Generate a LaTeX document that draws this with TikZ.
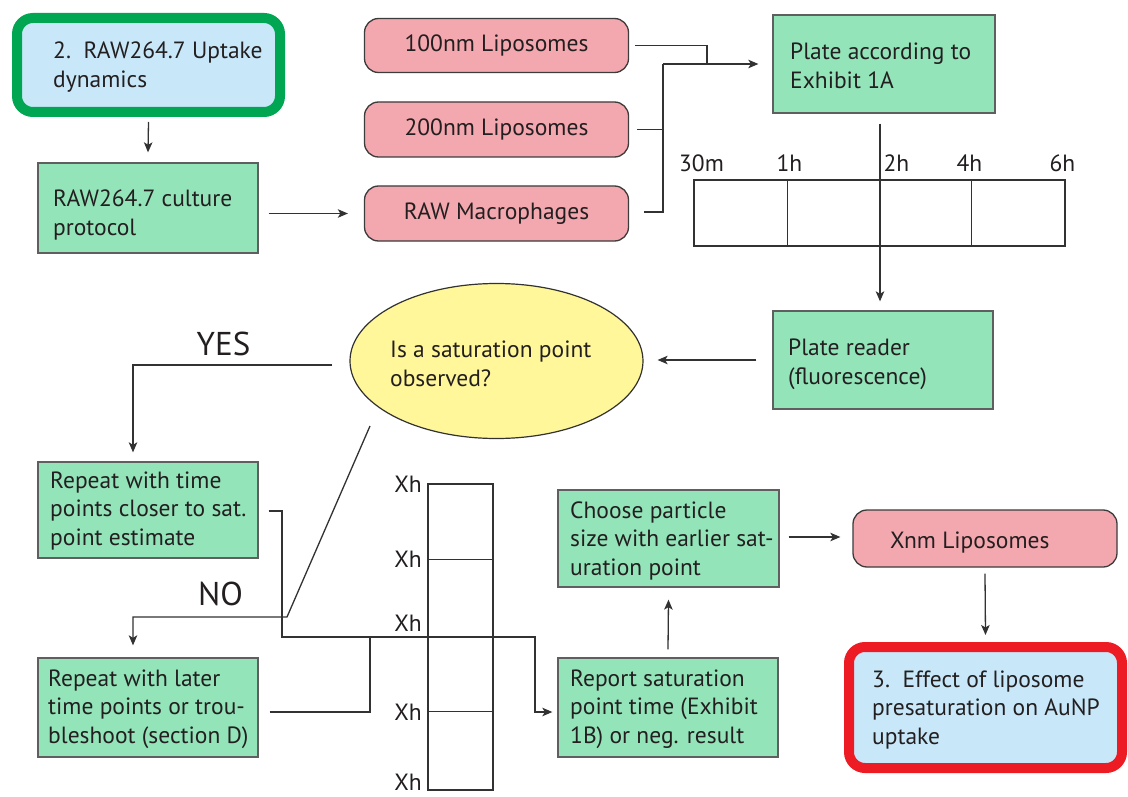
\documentclass[tikz,border=0pt]{standalone}
\usepackage{fontspec}
\setmainfont{PT Sans}
\usetikzlibrary{shapes.geometric,arrows.meta,calc}
\definecolor{boxgreen}{RGB}{148,228,186}
\definecolor{boxpink}{RGB}{243,167,174}
\definecolor{lightblue}{RGB}{200,232,250}
\definecolor{startgreen}{RGB}{0,166,81}
\definecolor{endred}{RGB}{237,28,36}
\definecolor{qyellow}{RGB}{255,247,153}
\definecolor{boxborder}{RGB}{95,95,95}
\definecolor{pinkborder}{RGB}{60,60,60}
\definecolor{linecol}{RGB}{50,50,50}
\definecolor{textcol}{RGB}{35,31,32}
\newcommand\regfont{\fontsize{23.5}{28.5}\selectfont}
\newcommand\bigfont{\fontsize{33}{36}\selectfont}
\begin{document}
\begin{tikzpicture}[x=1pt,y=-1pt,
  gbox/.style={draw=boxborder, fill=boxgreen, line width=1.3pt, inner sep=0pt},
  pbox/.style={draw=pinkborder, fill=boxpink, line width=1.3pt, rounded corners=14pt, inner sep=0pt, font=\regfont, text=textcol, minimum width=264pt},
  bluebox/.style={fill=lightblue, line width=10pt, rounded corners=16pt, inner sep=0pt},
  txt/.style={font=\regfont, text=textcol, align=left, inner sep=0pt, anchor=base west},
  lbl/.style={font=\regfont, text=textcol, inner sep=0pt, anchor=base},
  xlbl/.style={font=\regfont, text=textcol, inner sep=0pt, anchor=base east},
  big/.style={font=\bigfont, text=textcol, inner sep=0pt, anchor=base},
  conn/.style={draw=linecol, line width=1.3pt},
  arr/.style={conn, -{Stealth[length=10pt,width=8.5pt,inset=2.5pt]}},
  grid/.style={draw=linecol, line width=1.3pt}
]
\useasboundingbox[fill=white] (0,0) rectangle (1128,797);

% start box
\node[bluebox, draw=startgreen, minimum width=263pt, minimum height=94pt] (start) at (148.5,65) {};
\node[txt] (startt) at (53,87.5) {2.\ \ RAW264.7 Uptake\\dynamics};

% culture
\node[gbox, minimum width=220pt, minimum height=90pt] (culture) at (148,208) {};
\node[txt] (culturet) at (53,235.5) {RAW264.7 culture\\protocol};

% pink boxes
\node[pbox, minimum height=54pt] (lip100) at (496.5,45.5) {100nm Liposomes};
\node[pbox, minimum height=55pt] (lip200) at (496.5,129.5) {200nm Liposomes};
\node[pbox, minimum height=55pt] (raw) at (496.5,213.5) {RAW Macrophages};

% plate
\node[gbox, minimum width=222pt, minimum height=98pt] (plate) at (884,64) {};
\node[txt] (platet) at (790,88.5) {Plate according to\\Exhibit 1A};

% time table
\node[grid, minimum width=371pt, minimum height=66pt, inner sep=0pt] (tab) at (879.5,213) {};
\draw[grid] ($(tab.north west)+(94,0)$) -- ($(tab.south west)+(94,0)$);
\draw[grid] ($(tab.north west)+(278,0)$) -- ($(tab.south west)+(278,0)$);
\node[lbl] (t30) at (701.5,172) {30m};
\node[lbl] (t1) at (789.5,172) {1h};
\node[lbl] (t2) at (896.5,172) {2h};
\node[lbl] (t4) at (969.5,172) {4h};
\node[lbl] (t6) at (1062.5,172) {6h};

% plate reader
\node[gbox, minimum width=220pt, minimum height=98pt] (reader) at (883,360) {};
\node[txt] (readert) at (788,384) {Plate reader\\(fluorescence)};

% question
\node[ellipse, draw=linecol, fill=qyellow, line width=1.2pt, minimum width=293pt, minimum height=155pt, inner sep=0pt] (q) at (496.5,361) {};
\node[txt] (qt) at (390,386) {Is a saturation point\\observed?};

\node[big] (yes) at (223.5,355) {YES};
\node[big] (no) at (220.5,605) {NO};

% repeat boxes
\node[gbox, minimum width=220pt, minimum height=96pt] (rtime) at (148,510) {};
\node[txt] (rtimet) at (50,545) {Repeat with time\\points closer to sat.\\point estimate};
\node[gbox, minimum width=220pt, minimum height=99pt] (rlater) at (148,707.5) {};
\node[txt] (rlatert) at (48,743) {Repeat with later\\time points or trou-\\bleshoot (section D)};

% vertical table
\node[grid, minimum width=65pt, minimum height=306pt, inner sep=0pt] (vtab) at (460.5,637) {};
\draw[grid] ($(vtab.north west)+(0,76)$) -- ($(vtab.north east)+(0,76)$);
\draw[grid] ($(vtab.north west)+(0,228)$) -- ($(vtab.north east)+(0,228)$);
\node[xlbl] (x1) at (422,492) {Xh};
\node[xlbl] (x2) at (422,567) {Xh};
\node[xlbl] (x3) at (422,631) {Xh};
\node[xlbl] (x4) at (422,720) {Xh};
\node[xlbl] (x5) at (422,790) {Xh};

% report / choose
\node[gbox, minimum width=220pt, minimum height=99pt] (report) at (668,707.5) {};
\node[txt] (reportt) at (570,743) {Report saturation\\point time (Exhibit\\1B) or neg. result};
\node[gbox, minimum width=221pt, minimum height=97pt] (choose) at (668.5,538.5) {};
\node[txt] (chooset) at (570,575) {Choose particle\\size with earlier sat-\\uration point};

% xnm and final
\node[pbox, minimum height=57pt] (xnm) at (985,538.5) {};
\node[txt] (xnmt) at (890,548) {Xnm Liposomes};
\node[bluebox, draw=endred, minimum width=273pt, minimum height=121pt] (final) at (985.5,707.5) {};
\node[txt] (finalt) at (872,744) {3.\ \ Effect of liposome\\presaturation on AuNP\\uptake};

% connectors
\draw[arr] ($(start.south)+(0,5)$) -- ($(culture.north)+(0,-10)$);
\draw[arr] ($(culture.east)+(10,5.5)$) -- ($(raw.west)+(-16,0)$);
\coordinate (m1) at (707,64);
\coordinate (j) at (663,64);
\draw[conn] ($(lip100.east)+(6,0)$) -| (m1);
\draw[conn] ($(lip200.east)+(8,0)$) -| (j);
\draw[conn] ($(raw.east)+(15,-1.5)$) -| (j);
\draw[arr] (j) -- ($(plate.west)+(-14,0)$);
\draw[arr] ($(plate.south)+(-4,10)$) -- ($(reader.north)+(-3,-9)$);
\draw[arr] ($(reader.west)+(-16,0)$) -- ($(q.east)+(14,-1)$);
\draw[arr] ($(q.west)+(-17,4)$) -| ($(rtime.north)+(-15,-9)$);
\coordinate (nob) at (287,617);
\draw[arr] ($(q.center)+(-126.5,65)$) -- (nob) -| ($(rlater.north)+(-15,-12)$);
\coordinate (j1) at (282,637);
\coordinate (j2) at (370,637);
\coordinate (j3) at (535,637);
\draw[arr] ($(rtime.east)+(10,1)$) -| (j1) -- (j3) |- ($(report.west)+(-5,4.5)$);
\draw[conn] ($(rlater.east)+(11,4.5)$) -| (j2);
\draw[arr] ($(report.north)+(0,-8)$) -- ($(choose.south)+(0,12)$);
\draw[arr] ($(choose.east)+(9,-1.5)$) -- ($(xnm.west)+(-12,-1.5)$);
\draw[arr] ($(xnm.south)+(0,6)$) -- ($(final.north)+(0,-7)$);
\end{tikzpicture}
\end{document}
